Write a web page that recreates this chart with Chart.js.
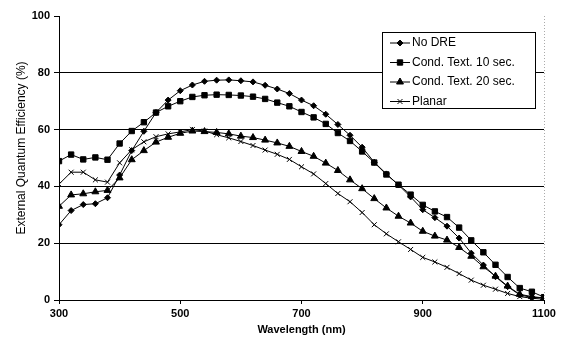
<!DOCTYPE html>
<html>
<head>
<meta charset="utf-8">
<script src="https://cdn.jsdelivr.net/npm/chart.js"></script>
<style>
  html, body { margin: 0; padding: 0; background: #fff; }
  #wrap { width: 565px; height: 345px; }
</style>
</head>
<body>
<div id="wrap"><canvas id="eqeChart" width="565" height="345"></canvas></div>
<script>
// Data, one value per 20 nm
const wavelengths = [300, 320, 340, 360, 380, 400, 420, 440, 460, 480, 500, 520, 540, 560, 580, 600, 620, 640, 660, 680, 700,
    720, 740, 760, 780, 800, 820, 840, 860, 880, 900, 920, 940, 960, 980, 1000, 1020, 1040, 1060, 1080, 1100];

const noDRE = [26.5, 31.5, 33.6, 33.9, 36.0, 44.0, 52.6, 59.4, 66.0, 70.4, 73.7, 75.7, 77.0, 77.4, 77.5, 77.2, 76.8, 75.6, 74.3, 72.7, 70.4,
    68.4, 65.4, 61.8, 58.0, 53.8, 48.5, 44.4, 40.5, 36.3, 31.8, 29.0, 26.0, 21.8, 16.5, 12.3, 8.2, 4.7, 1.8, 0.9, 0.8];

const condText10 = [48.9, 51.2, 49.5, 50.2, 49.4, 55.1, 59.5, 62.6, 66.0, 68.2, 70.0, 71.5, 72.1, 72.3, 72.2, 72.0, 71.6, 70.8, 69.5, 68.2, 66.2,
    64.3, 62.0, 58.8, 56.0, 52.3, 48.4, 44.2, 40.6, 37.1, 33.5, 31.2, 29.2, 25.5, 21.0, 16.8, 12.4, 8.1, 4.2, 2.9, 1.0];

const condText20 = [33.0, 37.0, 37.4, 38.1, 38.6, 43.0, 49.4, 52.6, 55.6, 57.3, 58.7, 59.5, 59.3, 59.0, 58.5, 57.7, 57.2, 56.3, 55.3, 54.1, 52.3,
    50.6, 48.2, 45.6, 42.3, 39.2, 35.7, 32.4, 29.5, 27.1, 24.2, 22.5, 21.1, 18.5, 15.4, 11.7, 8.4, 4.9, 2.0, 1.2, 0.7];

const planar = [40.8, 45.0, 45.0, 42.3, 41.5, 48.3, 52.9, 55.7, 57.5, 58.5, 59.2, 60.0, 59.5, 58.2, 57.1, 55.8, 54.4, 52.8, 51.3, 49.5, 46.9,
    44.4, 41.0, 37.5, 34.6, 30.8, 26.5, 23.3, 20.5, 17.8, 15.0, 13.4, 11.5, 9.3, 7.0, 5.2, 3.8, 2.3, 1.2, 0.6, 0.3];

const seriesNames = ['No DRE', 'Cond. Text. 10 sec.', 'Cond. Text. 20 sec.', 'Planar'];
const xTicks = [300, 500, 700, 900, 1100];
const yTicks = [0, 20, 40, 60, 80, 100];

const toPoints = (vals) => wavelengths.map((w, i) => ({ x: w, y: vals[i] }));

const markerStyles = [
    { pointStyle: 'rectRot', pointRadius: 3 },
    { pointStyle: 'rect', pointRadius: 3.8 },
    { pointStyle: 'triangle', pointRadius: 4 },
    { pointStyle: 'crossRot', pointRadius: 3.5 }
];

const allSeries = [noDRE, condText10, condText20, planar];

const datasets = allSeries.map((vals, i) => ({
    label: seriesNames[i],
    data: toPoints(vals),
    borderColor: '#000',
    backgroundColor: '#000',
    borderWidth: 1,
    pointStyle: markerStyles[i].pointStyle,
    pointRadius: markerStyles[i].pointRadius,
    pointBorderWidth: 1,
    pointBackgroundColor: '#000',
    pointBorderColor: '#000',
    tension: 0,
    fill: false
}));

// Boxed legend inside the plot, top right
const boxLegend = {
    id: 'boxLegend',
    afterDraw(chart) {
        const ctx = chart.ctx;
        const left = 382, top = 32, right = 535, bottom = 108;
        ctx.save();
        ctx.fillStyle = '#fff';
        ctx.fillRect(left, top, right - left, bottom - top);
        ctx.strokeStyle = '#000';
        ctx.lineWidth = 1;
        ctx.strokeRect(left + 0.5, top + 0.5, right - left, bottom - top);
        ctx.font = '12px "Liberation Sans", Arial, sans-serif';
        ctx.textBaseline = 'middle';
        ctx.fillStyle = '#000';
        seriesNames.forEach((name, i) => {
            const y = 43 + i * 19.5;
            ctx.beginPath();
            ctx.moveTo(390, y);
            ctx.lineTo(410, y);
            ctx.stroke();
            Chart.helpers.drawPoint(ctx, {
                pointStyle: markerStyles[i].pointStyle,
                radius: markerStyles[i].pointRadius,
                rotation: 0,
                borderWidth: 1
            }, 400, y);
            ctx.fillStyle = '#000';
            ctx.fillText(name, 412, y);
        });
        ctx.restore();
    }
};

// faint dotted right edge and rotated y title
const frameExtras = {
    id: 'frameExtras',
    beforeDatasetsDraw(chart) {
        const { ctx, chartArea } = chart;
        ctx.save();
        ctx.strokeStyle = '#aaa';
        ctx.lineWidth = 1;
        ctx.setLineDash([1, 2]);
        ctx.beginPath();
        ctx.moveTo(chartArea.right + 0.5, chartArea.top);
        ctx.lineTo(chartArea.right + 0.5, chartArea.bottom);
        ctx.stroke();
        ctx.restore();
    },
    afterDraw(chart) {
        const ctx = chart.ctx;
        ctx.save();
        ctx.translate(22, 148);
        ctx.rotate(-Math.PI / 2);
        ctx.font = '12px "Liberation Sans", Arial, sans-serif';
        ctx.textAlign = 'center';
        ctx.textBaseline = 'middle';
        ctx.fillStyle = '#000';
        ctx.fillText('External Quantum Efficiency (%)', 0, 0);
        ctx.restore();
    }
};

const eqeChart = new Chart(document.getElementById('eqeChart'), {
    type: 'line',
    data: { datasets: datasets },
    options: {
        responsive: false,
        animation: false,
        devicePixelRatio: 1,
        layout: { padding: { top: 16, right: 21, left: 0, bottom: 0 } },
        plugins: {
            legend: { display: false },
            tooltip: { enabled: false }
        },
        scales: {
            x: {
                type: 'linear',
                min: xTicks[0],
                max: xTicks[xTicks.length - 1],
                afterBuildTicks: (axis) => { axis.ticks = xTicks.map(v => ({ value: v })); },
                afterFit: (axis) => { axis.height = 45; },
                ticks: {
                    color: '#000',
                    font: { family: '"Liberation Sans", Arial, sans-serif', size: 11, weight: 'bold' },
                    padding: 3,
                    maxRotation: 0,
                    callback: (v) => String(v)
                },
                grid: { drawOnChartArea: false, tickLength: 4, tickColor: '#000' },
                border: { color: '#000', width: 1 },
                title: {
                    display: true,
                    text: 'Wavelength (nm)',
                    color: '#000',
                    font: { family: '"Liberation Sans", Arial, sans-serif', size: 11, weight: 'bold' },
                    padding: 8
                }
            },
            y: {
                min: yTicks[0],
                max: yTicks[yTicks.length - 1],
                afterBuildTicks: (axis) => { axis.ticks = yTicks.map(v => ({ value: v })); },
                afterFit: (axis) => { axis.width = 59; },
                ticks: {
                    color: '#000',
                    font: { family: '"Liberation Sans", Arial, sans-serif', size: 11, weight: 'bold' },
                    padding: 4,
                    callback: (v) => String(v)
                },
                grid: {
                    color: (c) => (c.tick && c.tick.value === 100 ? 'rgba(0,0,0,0)' : '#000'),
                    tickColor: '#000',
                    tickLength: 5,
                    lineWidth: 1
                },
                border: { color: '#000', width: 1 }
            }
        }
    },
    plugins: [frameExtras, boxLegend]
});
</script>
</body>
</html>
